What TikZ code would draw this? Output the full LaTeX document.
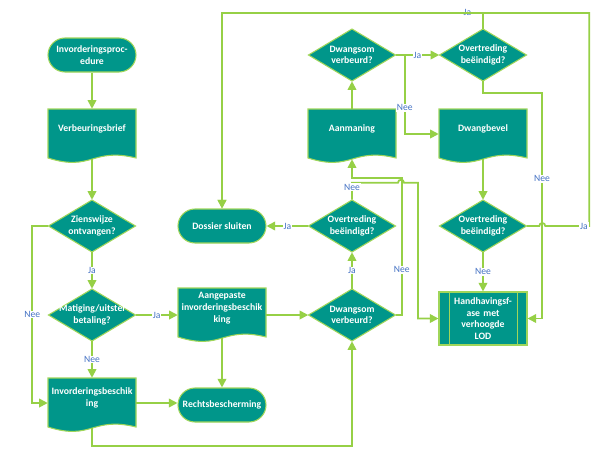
\documentclass[tikz,border=0pt]{standalone}
\usepackage{fontspec}
\setmainfont{Carlito}
\usetikzlibrary{arrows.meta}

\begin{document}
\begin{tikzpicture}[
  x=0.75pt, y=-0.75pt,
  font=\fontsize{7.3}{8.8}\selectfont\bfseries,
  shapeline/.style={draw=edgeGreen, line width=0.8pt},
  flow/.style={draw=lineGreen, line width=1.3pt, -{Triangle[length=6.5pt, width=6.5pt]}},
  terminal/.style={shapeline, fill=flowTeal, rounded corners=12.75pt, minimum width=66pt, minimum height=25.5pt, inner sep=0pt, text=white, align=center},
  process/.style={shapeline, fill=flowTeal, minimum width=66pt, minimum height=39.75pt, inner sep=0pt, text width=48pt, text=white, align=center},
  docbox/.style={minimum width=66pt, minimum height=37.5pt, inner sep=0pt},
  doctext/.style={text width=63pt, inner sep=0pt, text=white, align=center},
  choicebox/.style={minimum width=65.25pt, minimum height=39pt, inner sep=0pt, text width=60pt, text=white, align=center},
  answer/.style={font=\fontsize{7.2}{8.4}\selectfont\mdseries, text=answerBlue, fill=white, inner sep=0.6pt},
]

\definecolor{flowTeal}{RGB}{0,150,138}
\definecolor{edgeGreen}{RGB}{160,214,90}
\definecolor{lineGreen}{RGB}{150,208,70}
\definecolor{answerBlue}{RGB}{68,114,196}

\useasboundingbox (0,0) rectangle (602,454);

% Helper macro: name, left x, top y, text.
\newcommand{\docnode}[4]{%
  \filldraw[shapeline, fill=flowTeal] (#2,#3) -- (#2+88,#3) -- (#2+88,#3+49)
    .. controls (#2+44,#3+38) and (#2+44,#3+63) .. (#2,#3+49) -- cycle;%
  \node[docbox] (#1) at (#2+44,#3+25) {};%
  \node[doctext] (#1-text) at (#2+44,#3+20) {#4};%
}

% Helper macro: name, centre x, centre y, text.
\newcommand{\choicenode}[4]{%
  \filldraw[shapeline, fill=flowTeal] (#2,#3-26) -- (#2+43.5,#3) -- (#2,#3+26) -- (#2-43.5,#3) -- cycle;%
  \node[choicebox] (#1) at (#2,#3) {#4};%
}

% Left column.
\node[terminal] (start) at (92,55) {Invorderingsproc-\\edure};
\docnode{brief}{48}{109}{Verbeuringsbrief}
\choicenode{zienswijze}{92}{226}{Zienswijze\\ontvangen?}
\choicenode{matiging}{92}{315}{Matiging/uitstel\\betaling?}
\docnode{beschikking}{48}{378}{Invorderingsbeschik\\ing}

% Middle column.
\node[terminal] (dossier) at (222,226) {Dossier sluiten};
\docnode{aangepast}{178}{288}{Aangepaste\\invorderingsbeschik\\king}
\node[terminal] (rechts) at (222,405) {Rechtsbescherming};

% Dwangsom column.
\choicenode{dwangsomTop}{352}{55}{Dwangsom\\verbeurd?}
\docnode{aanmaning}{308}{109}{Aanmaning}
\choicenode{overtredingMid}{352}{226}{Overtreding\\beëindigd?}
\choicenode{dwangsomLow}{352}{315}{Dwangsom\\verbeurd?}

% Right column.
\choicenode{overtredingTop}{483}{55}{Overtreding\\beëindigd?}
\docnode{dwangbevel}{439}{109}{Dwangbevel}
\choicenode{overtredingLow}{483}{226}{Overtreding\\beëindigd?}
\node[process] (handhaving) at (483,318.5) {Handhavingsf-\\ase met\\verhoogde\\LOD};
\draw[shapeline] ([xshift=8.25pt]handhaving.north west) -- ([xshift=8.25pt]handhaving.south west);
\draw[shapeline] ([xshift=-7.5pt]handhaving.north east) -- ([xshift=-7.5pt]handhaving.south east);

% Left column connectors.
\draw[flow] (start) -- (brief);
\draw[flow] (brief) -- (zienswijze);
\draw[flow] (zienswijze) -- node[answer]{Ja} (matiging);
\draw[flow] (zienswijze.west) -- ++(-16,0) |- node[answer, pos=0.25]{Nee} (beschikking.west);
\draw[flow] (matiging) -- node[answer]{Nee} (beschikking);
\draw[flow] (matiging.east) -- node[answer]{Ja} (matiging.east -| aangepast.west);
\draw[flow] (beschikking.east) -- (beschikking.east -| rechts.west);
\draw[flow] (beschikking.south) -- ++(0,18) -| (dwangsomLow.south);

% Middle connectors.
\draw[flow] (aangepast) -- (rechts);
\draw[flow] (aangepast.east |- dwangsomLow.west) -- (dwangsomLow.west);
\draw[flow] (dwangsomLow) -- node[answer]{Ja} (overtredingMid);
\draw[flow] (overtredingMid) -- node[answer]{Ja} (dossier);
\draw[flow] (dwangsomLow.east) -- ++(6,0) -- node[answer, pos=0.33]{Nee} ++(0,-137) -| (aanmaning.south);
\draw[flow] (overtredingMid.north) -- node[answer, pos=0.75]{Nee} ++(0,-17) -- ++(46,0)
  arc[start angle=180, end angle=360, radius=3] -- ++(14,0) |- (handhaving.west);
\draw[flow] (aanmaning) -- (dwangsomTop);

% Right connectors.
\draw[flow] (dwangsomTop) -- node[answer, pos=0.5]{Ja} (overtredingTop);
\draw[flow] (dwangsomTop.east) -- ++(9,0) |- node[answer, pos=0.335]{Nee} (dwangbevel.west);
\draw[flow] (overtredingTop.north) -- ++(0,-16) -| node[answer, pos=0.03]{Ja} (dossier.north);
\draw[flow] (overtredingTop.south) -- ++(0,12) -- ++(59,0) |- node[answer, pos=0.19]{Nee} (handhaving.east);
\draw[flow] (dwangbevel) -- (overtredingLow);
\draw[flow] (overtredingLow) -- node[answer]{Nee} (handhaving);
\draw[flow] (overtredingLow.east) -- ++(12.5,0) arc[start angle=180, end angle=360, radius=3]
  -- node[answer, pos=0.88]{Ja} ++(44,0) -- ++(0,-213) -| (dossier.north);

\end{tikzpicture}
\end{document}
